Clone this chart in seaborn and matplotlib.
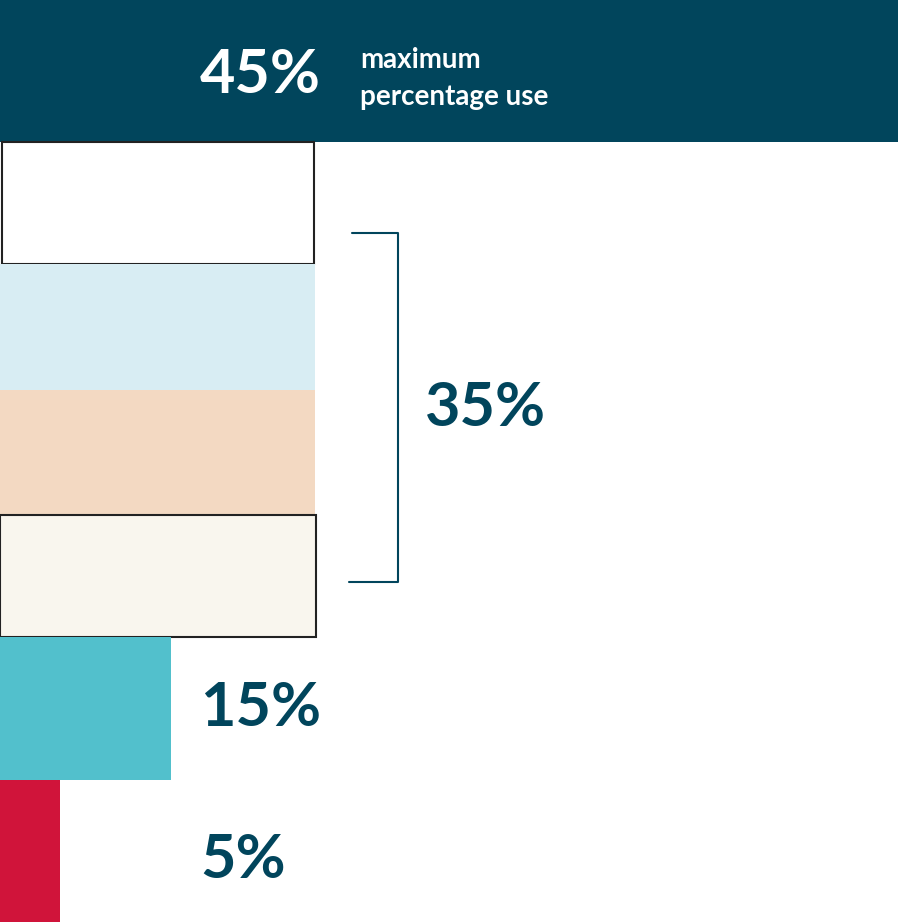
import matplotlib
matplotlib.use("Agg")
import matplotlib.pyplot as plt
import seaborn as sns
import pandas as pd

categories = ["max", "a", "b", "c", "d", "mid", "low"]
widths = [898, 314, 315, 315, 316, 171, 60]
colors = ["#01455c", "#ffffff", "#d8edf3", "#f3d9c2", "#f9f6ee", "#52c0cc", "#d0143a"]
edges = [None, "#222222", None, None, "#222222", None, None]
labels = ["45%", "35%", "15%", "5%"]

sns.set_theme(style="white")
plt.rcParams['font.family'] = ['Lato', 'DejaVu Sans']

fig = plt.figure(figsize=(8.98, 9.22), dpi=100)
ax = fig.add_axes([0, 0, 1, 1])
df = pd.DataFrame({"cat": categories, "w": widths})
sns.barplot(data=df, y="cat", x="w", hue="cat", palette=colors, orient="h",
            width=1.0, ax=ax, legend=False, saturation=1)
row = 922 / 7
bounds = [0, 142, 264, 390, 515, 637, 780, 922]
for i, (p, e) in enumerate(zip(ax.patches, edges)):
    y0 = bounds[i] / row - 0.5
    y1 = bounds[i + 1] / row - 0.5
    p.set_y(y0); p.set_height(y1 - y0)
    if e:
        p.set_edgecolor(e); p.set_linewidth(1.5)
    else:
        p.set_linewidth(0)
ax.patches[1].set_x(2); ax.patches[1].set_width(312)
ax.set_xlim(0, 898)
ax.set_ylim(6.5, -0.5)
ax.axis("off")

navy = "#01455c"
ax.text(200, 75 / row - 0.5, labels[0], color="white", fontsize=44, fontweight="bold", va="center")
ax.text(360, 60 / row - 0.5, "maximum", color="white", fontsize=20, fontweight="bold", va="center")
ax.text(360, 97 / row - 0.5, "percentage use", color="white", fontsize=20, fontweight="bold", va="center")
ax.plot([352, 398, 398, 349], [233 / row - 0.5] * 2 + [582 / row - 0.5] * 2, color=navy, lw=1.5)
ax.text(425, 408 / row - 0.5, labels[1], color=navy, fontsize=44, fontweight="bold", va="center")
ax.text(200, 708 / row - 0.5, labels[2], color=navy, fontsize=44, fontweight="bold", va="center")
ax.text(200, 860 / row - 0.5, labels[3], color=navy, fontsize=44, fontweight="bold", va="center")
fig.savefig("out.png", dpi=100)
